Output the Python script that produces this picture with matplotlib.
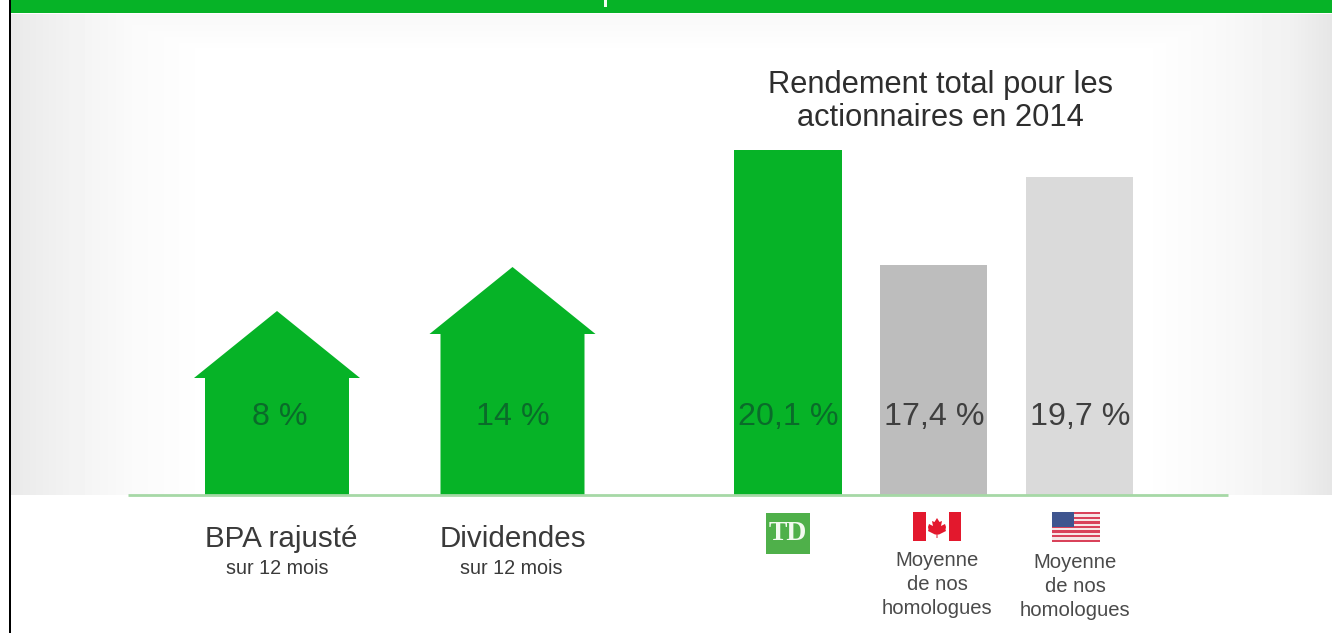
import numpy as np
import matplotlib
matplotlib.use("Agg")
import matplotlib.pyplot as plt
from matplotlib.patches import Polygon, Rectangle

plt.rcParams['font.family'] = ['Liberation Sans', 'DejaVu Sans']

# Data
growth_labels = ["BPA rajusté", "Dividendes"]
growth_sub = ["sur 12 mois", "sur 12 mois"]
growth_values = ["8 %", "14 %"]
growth_heights = [184, 228]      # arrow height above the baseline (chart is not to scale)
tsr_names = ["TD", "Canada", "États-Unis"]
tsr_values = ["20,1 %", "17,4 %", "19,7 %"]
tsr_heights = [345, 230, 318]    # bar height above the baseline (chart is not to scale)
peer_label = ["Moyenne", "de nos", "homologues"]
title_lines = ["Rendement total pour les", "actionnaires en 2014"]

GREEN = "#06B327"
BASE = 495
W, H = 1332, 633

fig = plt.figure(figsize=(W / 100, H / 100), dpi=100, facecolor="white")
ax = fig.add_axes([0, 0, 1, 1])
Y = lambda p: BASE - p   # screen row -> height above the baseline

# Background shading
xs = np.arange(11, W)
ys = np.arange(14, BASE)
hg = np.interp(xs, [11, 70, 130, 210, 1140, 1220, 1290, 1332],
               [.915, .95, .98, 1, 1, .975, .945, .90])
vg = np.interp(ys, [14, 24, 42, 52], [.975, .98, .992, 1])
shade = np.minimum.outer(vg, hg)
ax.imshow(shade, cmap="gray", vmin=0, vmax=1, aspect="auto", interpolation="bilinear",
          extent=(11, W, Y(BASE), Y(14)), origin="upper", zorder=0)

ax.set_xlim(0, W)
ax.set_ylim(Y(H), Y(0))
ax.axis("off")

# Header band and frame
ax.add_patch(Rectangle((9, Y(13)), W - 9, 13, fc=GREEN, ec="none", zorder=1))
ax.add_patch(Rectangle((603.5, Y(7)), 3, 7, fc="#f0fff0", ec="none", zorder=2))
ax.add_patch(Rectangle((9, Y(H)), 2, H, fc="black", ec="none", zorder=3))

# Growth arrows
arrow_x = [277, 512.5]
body_half = 72
eave_half = 83
roof = 67
value_dx = [2.5, 0.5]
label_dx = [4.5, 0.5]
sub_dx = [0.5, -1.5]
for i, (cx, h, val, lab, sub) in enumerate(zip(arrow_x, growth_heights, growth_values, growth_labels, growth_sub)):
    eave = h - roof
    ax.add_patch(Polygon([(cx - body_half, 0), (cx - body_half, eave), (cx - eave_half, eave),
                          (cx, h), (cx + eave_half, eave), (cx + body_half, eave),
                          (cx + body_half, 0)], closed=True, fc=GREEN, ec="none", zorder=2))
    ax.text(cx + value_dx[i], Y(417), val, ha="center", va="center", fontsize=23.2, color="#0A6B2A", zorder=4)
    ax.text(cx + label_dx[i], Y(539), lab, ha="center", va="center", fontsize=21.3, color="#3a3a3a", zorder=4)
    ax.text(cx + sub_dx[i], Y(569), sub, ha="center", va="center", fontsize=14.2, color="#3a3a3a", zorder=4)

# Total shareholder return bars
bar_x = [788, 933.5, 1079.5]
bar_colors = [GREEN, "#BDBDBD", "#DADADA"]
value_colors = ["#0A6B2A", "#3f3f3f", "#3f3f3f"]
ax.bar(bar_x, tsr_heights, width=107.5, color=bar_colors, zorder=2)
for x, v, c in zip(bar_x, tsr_values, value_colors):
    ax.text(x + 0.5, Y(417), v, ha="center", va="center", fontsize=23.2, color=c, zorder=4)

for i, line in enumerate(title_lines):
    ax.text(940, Y(85 + 33 * i), line, ha="center", va="center", fontsize=22.2, color="#2e2e2e", zorder=4)

# Baseline
ax.plot([128, 1228], [0, 0], color="#A6D8A6", lw=2, solid_capstyle="butt", zorder=3)

# TD logo
ax.add_patch(Rectangle((766, Y(554)), 44, 41, fc="#4FB04A", ec="none", zorder=2))
ax.text(788, Y(534), "TD", ha="center", va="center", fontsize=20, color="#F2FAF0",
        family="Liberation Serif", fontweight="bold", zorder=3)

# Canadian flag
ax.add_patch(Rectangle((913, Y(541)), 12.5, 29, fc="#E3182D", ec="none", zorder=2))
ax.add_patch(Rectangle((948.5, Y(541)), 12.5, 29, fc="#E3182D", ec="none", zorder=2))
leaf = [(937, 518), (939.5, 522), (942, 521), (941, 526), (945, 524), (946, 527), (945.5, 529.5),
        (946, 531), (939, 534.5), (937.5, 534.5), (937.5, 538), (936.5, 538), (936.5, 534.5), (935, 534.5),
        (928, 531), (928.5, 529.5), (928, 527), (929, 524), (933, 526), (932, 521), (934.5, 522)]
ax.add_patch(Polygon([(x, Y(y)) for x, y in leaf], closed=True, fc="#E3182D", ec="none", zorder=2))

# US flag
stripe_h = 30 / 13
for i in range(13):
    ax.add_patch(Rectangle((1052, Y(512 + (i + 1) * stripe_h)), 48, stripe_h,
                           fc="#D9425A" if i % 2 == 0 else "#F7E6E6", ec="none", zorder=2))
ax.add_patch(Rectangle((1052, Y(527)), 22, 15, fc="#3F558F", ec="none", zorder=3))

# Peer labels
for cx, top in [(937, 561), (1075, 562)]:
    for i, line in enumerate(peer_label):
        ax.text(cx, Y(top + 24 * i), line, ha="center", va="center", fontsize=14.6, color="#4a4a4a", zorder=4)

fig.savefig("out.png", dpi=100, facecolor="white")
